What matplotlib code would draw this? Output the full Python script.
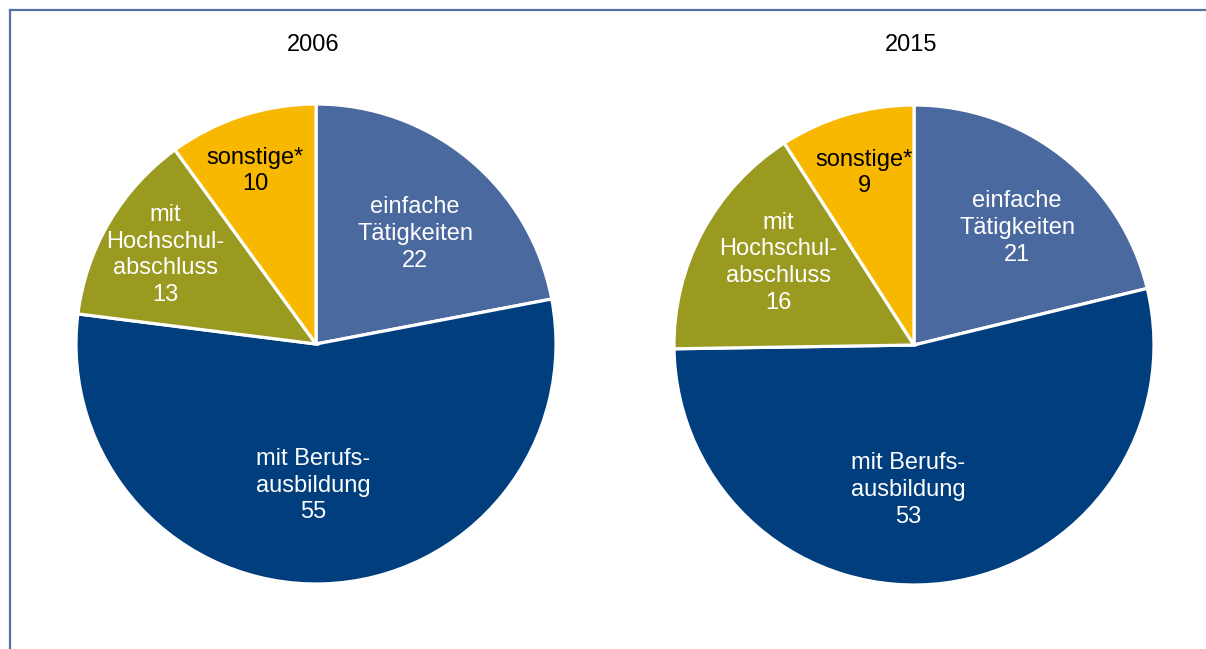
import numpy as np
import matplotlib.pyplot as plt
from matplotlib.lines import Line2D

plt.rcParams['font.family'] = ['Liberation Sans', 'DejaVu Sans']

W, H = 1206, 649

categories = ['einfache\nTätigkeiten', 'mit Berufs-\nausbildung', 'mit\nHochschul-\nabschluss', 'sonstige*']
years = ['2006', '2015']
values_2006 = [22, 55, 13, 10]
values_2015 = [21, 53, 16, 9]

colors = ['#4A699F', '#003E7E', '#9A9A20', '#F8B800']
text_colors = ['white', 'white', 'white', 'black']

fig = plt.figure(figsize=(W / 100, H / 100), dpi=100)

# frame line top + left
fig.add_artist(Line2D([10 / W, 1], [1 - 9.5 / H] * 2, color='#5572A6', lw=1.6, transform=fig.transFigure))
fig.add_artist(Line2D([10 / W] * 2, [0, 1 - 9.5 / H], color='#5572A6', lw=1.6, transform=fig.transFigure))

R = 240
# label placement: radius fraction and angle nudge (deg) per slice
setups = [
    (years[0], values_2006, (316, 344), [0.617, 0.59, 0.73, 0.765], [-2.4, -3, 0, 1.4]),
    (years[1], values_2015, (914, 345), [0.65, 0.605, 0.66, 0.746], [-3.2, -9.7, -3.1, -0.2]),
]

for year, vals, (cx, cy), rfrac, dang in setups:
    ax = fig.add_axes([(cx - R) / W, (H - cy - R) / H, 2 * R / W, 2 * R / H])
    wedges, _ = ax.pie(vals, colors=colors, startangle=90, counterclock=False,
                       radius=1, wedgeprops=dict(edgecolor='white', linewidth=2.3))
    ax.set_xlim(-1, 1)
    ax.set_ylim(-1, 1)
    ax.set_aspect('equal')
    ax.axis('off')
    for w, lab, v, tc, rf, da in zip(wedges, categories, vals, text_colors, rfrac, dang):
        ang = np.deg2rad((w.theta1 + w.theta2) / 2 + da)
        ax.text(rf * np.cos(ang), rf * np.sin(ang), lab + '\n' + str(v),
                ha='center', va='center', color=tc, fontsize=17, linespacing=1.27)
    fig.text((cx - 3) / W, 1 - 45 / H, year, ha='center', va='center', fontsize=17)

fig.savefig('out.png', dpi=100)
